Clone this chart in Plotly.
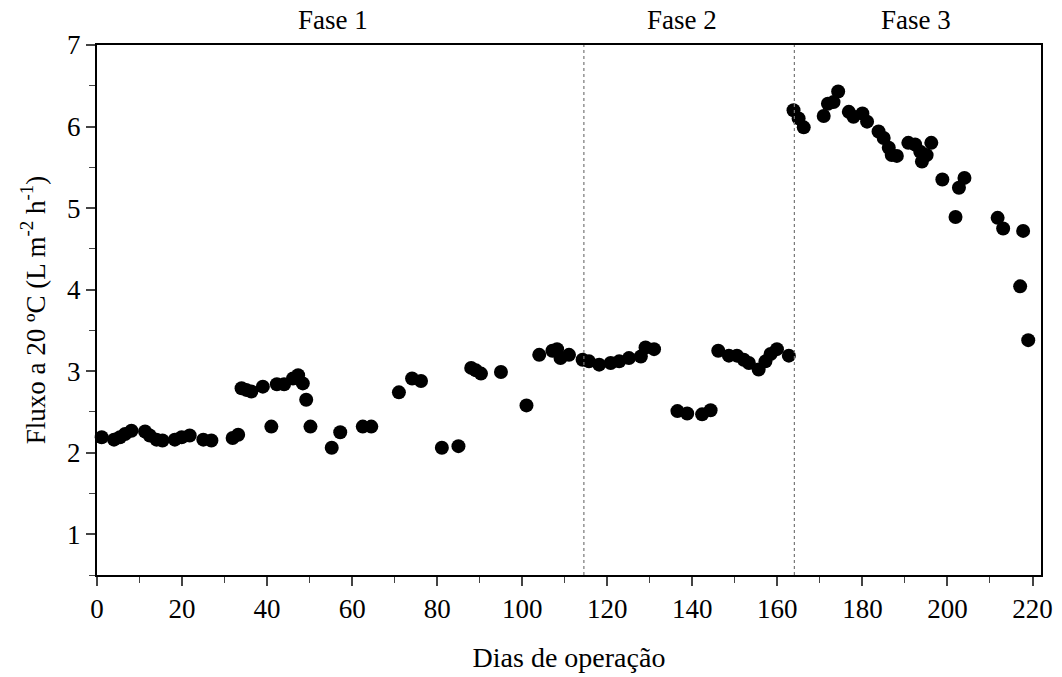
import plotly.graph_objects as go

days = [1.1, 4.0, 5.4, 6.6, 8.1, 11.3, 12.4, 14.0, 15.4, 18.3, 19.9, 21.8, 25.0, 26.9,
        31.9, 33.2, 34.0, 35.1, 36.3, 39.0, 41.0, 42.3, 44.0, 46.1, 47.3, 48.4, 49.2, 50.2,
        55.2, 57.2, 62.5, 64.5, 71.0, 74.1, 76.2, 81.1, 85.0, 88.0, 89.1, 90.3, 95.0,
        101.0, 104.0, 107.1, 108.2, 109.0, 111.0,
        114.2, 115.7, 118.1, 120.8, 122.8, 125.1, 127.9, 129.0, 131.0,
        136.5, 138.8, 142.3, 144.3, 146.1, 148.6, 150.5, 152.1, 153.3, 155.6, 157.2, 158.4,
        159.9, 162.7,
        163.8, 165.0, 166.2, 170.9, 171.9, 173.2, 174.3, 176.8, 177.9, 180.0, 181.1,
        183.8, 185.0, 186.2, 186.9, 188.1, 190.8, 192.4, 193.6, 194.0, 195.1, 196.2,
        198.8, 201.9, 202.7, 204.0, 211.8, 213.1, 217.1, 217.8, 219.0]
fluxo = [2.19, 2.16, 2.19, 2.23, 2.27, 2.26, 2.21, 2.16, 2.15, 2.16, 2.19, 2.21, 2.16, 2.15,
         2.18, 2.22, 2.79, 2.77, 2.75, 2.81, 2.32, 2.84, 2.84, 2.91, 2.95, 2.85, 2.65, 2.32,
         2.06, 2.25, 2.32, 2.32, 2.74, 2.91, 2.88, 2.06, 2.08, 3.04, 3.01, 2.97, 2.99,
         2.58, 3.20, 3.25, 3.27, 3.16, 3.20,
         3.14, 3.12, 3.08, 3.10, 3.12, 3.16, 3.18, 3.29, 3.27,
         2.51, 2.48, 2.47, 2.52, 3.25, 3.19, 3.19, 3.14, 3.10, 3.02, 3.12, 3.21,
         3.27, 3.19,
         6.20, 6.10, 5.99, 6.13, 6.28, 6.30, 6.43, 6.18, 6.12, 6.16, 6.06,
         5.94, 5.86, 5.74, 5.65, 5.64, 5.80, 5.78, 5.69, 5.57, 5.65, 5.80,
         5.35, 4.89, 5.25, 5.37, 4.88, 4.75, 4.04, 4.72, 3.38]

phase_bounds = [114.5, 164.0]
phase_labels = ["Fase 1", "Fase 2", "Fase 3"]
phase_label_x = [55.5, 137.5, 192.5]

x_ticks = list(range(0, 221, 20))
y_ticks = [1, 2, 3, 4, 5, 6, 7]

font = "Liberation Serif, Times New Roman, serif"

fig = go.Figure()
fig.add_trace(go.Scatter(
    x=days, y=fluxo, mode="markers",
    marker=dict(color="black", size=14, line=dict(width=0)),
    showlegend=False, cliponaxis=False))

for b in phase_bounds:
    fig.add_shape(type="line", x0=b, x1=b, xref="x", y0=0, y1=1, yref="paper",
                  line=dict(color="#777777", width=1.2, dash="dot"))

for lab, lx in zip(phase_labels, phase_label_x):
    fig.add_annotation(x=lx, xref="x", y=1, yref="paper", yanchor="bottom", yshift=8,
                       text=lab, showarrow=False, font=dict(family=font, size=27, color="black"))

fig.update_layout(
    width=1062, height=677,
    margin=dict(l=97, r=21, t=45, b=102),
    plot_bgcolor="white", paper_bgcolor="white",
    font=dict(family=font, size=26, color="black"),
)
fig.update_xaxes(
    range=[0, 222], tickvals=x_ticks, ticks="outside", ticklen=9, tickwidth=1.5,
    showline=True, linecolor="black", linewidth=2, mirror=True, showgrid=False, zeroline=False,
    minor=dict(dtick=10, tick0=0, ticks="outside", ticklen=6, tickwidth=1.2, showgrid=False),
    tickfont=dict(size=27), automargin=False,
    title=dict(text="Dias de operação", font=dict(size=28), standoff=24),
)
fig.update_yaxes(
    range=[0.5, 7], tickvals=y_ticks, ticks="outside", ticklen=9, tickwidth=1.5,
    showline=True, linecolor="black", linewidth=2, mirror=True, showgrid=False, zeroline=False,
    minor=dict(dtick=0.5, tick0=0.5, ticks="outside", ticklen=6, tickwidth=1.2, showgrid=False),
    tickfont=dict(size=27), automargin=False,
    title=dict(text="Fluxo a 20 ºC (L m<sup>-2</sup> h<sup>-1</sup>)", font=dict(size=27), standoff=14),
)

fig.write_html("out.html", config={"displayModeBar": False},
               post_script="document.body.style.margin='0';document.body.style.padding='0';")
